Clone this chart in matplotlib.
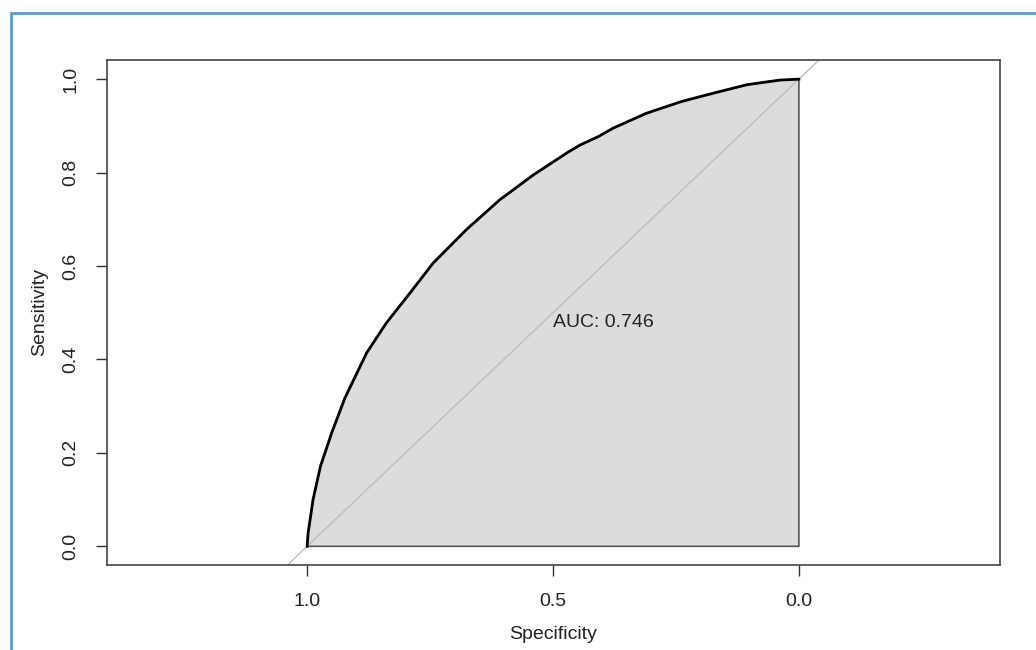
import matplotlib
matplotlib.use("Agg")
import matplotlib.pyplot as plt
from matplotlib.patches import Rectangle, Polygon

# ROC curve points
specificity = [1.000, 0.998, 0.993, 0.988, 0.973, 0.950, 0.923, 0.879, 0.839,
               0.791, 0.744, 0.676, 0.608, 0.540, 0.472, 0.445, 0.408, 0.378,
               0.310, 0.239, 0.174, 0.106, 0.039, 0.000]
sensitivity = [0.000, 0.029, 0.064, 0.100, 0.171, 0.243, 0.318, 0.414, 0.478,
               0.542, 0.606, 0.678, 0.742, 0.795, 0.842, 0.859, 0.877, 0.895,
               0.927, 0.952, 0.970, 0.988, 0.998, 1.000]
auc_label = "AUC: 0.746"
x_ticks = [1.0, 0.5, 0.0]
x_tick_labels = ["1.0", "0.5", "0.0"]
y_ticks = [0.0, 0.2, 0.4, 0.6, 0.8, 1.0]
y_tick_labels = ["0.0", "0.2", "0.4", "0.6", "0.8", "1.0"]

plt.rcParams['font.family'] = ['Liberation Sans', 'DejaVu Sans']
FS = 14

fig = plt.figure(figsize=(10.36, 6.5), dpi=100)
ax = fig.add_axes([107/1036, 1-565/650, (1000-107)/1036, (565-60)/650])

# filled AUC polygon
poly_pts = list(zip(specificity, sensitivity)) + [(0.0, 0.0), (1.0, 0.0)]
ax.add_patch(Polygon(poly_pts, closed=True, facecolor='#DCDCDC',
                     edgecolor='#555555', linewidth=1.2, zorder=1))
# identity line
ax.plot([1.5, -0.5], [-0.5, 1.5], color='#BBBBBB', linewidth=0.9, zorder=2)
# ROC curve
ax.plot(specificity, sensitivity, color='black', linewidth=2.0, zorder=3,
        solid_joinstyle='round')

ax.text(0.5, 0.48, auc_label, ha='left', va='center', fontsize=FS,
        color='#222222', zorder=4)

ax.set_xlim(1.407, -0.409)
ax.set_ylim(-0.04, 1.041)
ax.set_xticks(x_ticks)
ax.set_xticklabels(x_tick_labels)
ax.set_yticks(y_ticks)
ax.set_yticklabels(y_tick_labels, rotation=90, va='center')
ax.tick_params(axis='both', direction='out', length=8, width=1, color='#333333',
               labelsize=FS, labelcolor='#222222')
ax.tick_params(axis='x', pad=12)
ax.tick_params(axis='y', pad=12)
for s in ax.spines.values():
    s.set_color('#444444')
    s.set_linewidth(1.2)
ax.set_xlabel("Specificity", fontsize=FS, color='#222222', labelpad=12)
ax.set_ylabel("Sensitivity", fontsize=FS, color='#222222', labelpad=10)

# light blue frame around the figure (left and top edges visible)
fig.patches.append(Rectangle((11/1036, -0.1), 1.2, 1 - 13/650 + 0.1,
                             transform=fig.transFigure, fill=False,
                             edgecolor='#5B9BD5', linewidth=2, zorder=10))

fig.savefig("out.png", dpi=100)
